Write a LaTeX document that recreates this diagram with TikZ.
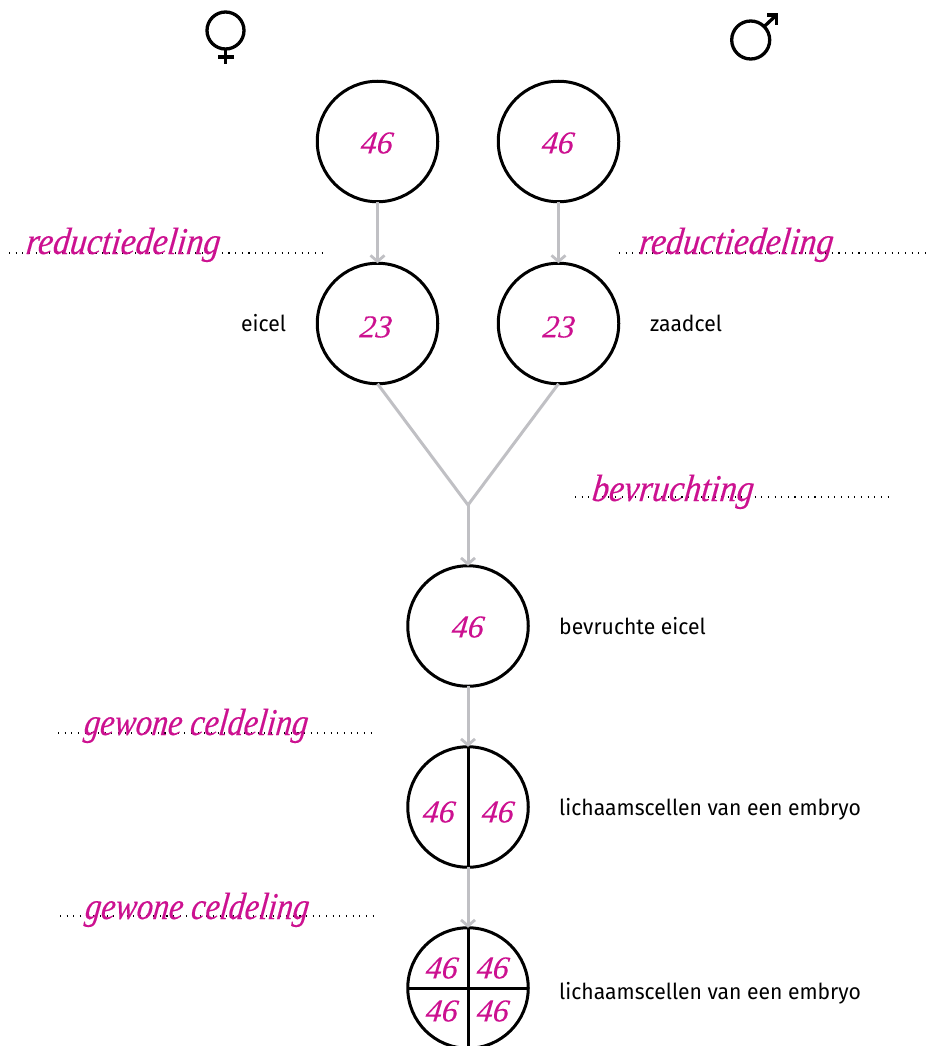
\documentclass[tikz,border=0pt]{standalone}
\usepackage{fontspec}
\setmainfont[FakeStretch=0.96]{Fira Sans}
\newfontfamily\numfont[FakeSlant=0.12,FakeBold=0.25]{Liberation Serif Italic}
\newfontfamily\handfont[FakeSlant=0.12,FakeBold=0.25,FakeStretch=0.89]{Liberation Serif Italic}
\newfontfamily\handfontb[FakeSlant=0.12,FakeBold=0.25,FakeStretch=0.845]{Liberation Serif Italic}
\usetikzlibrary{arrows.meta}
\definecolor{pinkink}{HTML}{CC1190}
\definecolor{linkgrey}{HTML}{C0C0C4}
\tikzset{
  x=1pt,y=-1pt,
  cell/.style={circle,draw=black,line width=3pt,minimum size=120.5pt,inner sep=0pt,outer sep=0pt},
  link/.style={draw=linkgrey,line width=3pt},
  linkarrow/.style={link,-{Straight Barb[length=6pt,width=14pt,line width=2.8pt]}},
  divider/.style={draw=black,line width=3pt},
  leader/.style={draw=black,line width=1.1pt,dash pattern=on 1.1pt off 5.55pt},
  num/.style={text=pinkink,font=\numfont\fontsize{32}{32}\selectfont,inner sep=0pt},
  proc/.style={text=pinkink,font=\handfont\fontsize{38}{38}\selectfont,inner sep=0pt,anchor=base west},
  procb/.style={text=pinkink,font=\handfontb\fontsize{38}{38}\selectfont,inner sep=0pt,anchor=base west},
  lab/.style={text=black,font=\fontsize{22}{24}\selectfont,inner sep=0pt,anchor=base west},
  sym/.style={circle,draw=black,line width=3.3pt,inner sep=0pt,outer sep=0pt},
  symline/.style={draw=black,line width=3.3pt},
}
\begin{document}
\begin{tikzpicture}
\useasboundingbox (0,0) rectangle (928,1046);
\clip (0,0) rectangle (928,1046);
% dotted leaders
\coordinate (l1a) at (9,253); \coordinate (l1b) at (325,253);
\coordinate (l2a) at (619,253); \coordinate (l2b) at (928,253);
\coordinate (l3a) at (575,497); \coordinate (l3b) at (891,497);
\coordinate (l4a) at (58,733); \coordinate (l4b) at (375,733);
\coordinate (l5a) at (60,916); \coordinate (l5b) at (376,916);
\draw[leader] (l1a) -- (l1b);
\draw[leader] (l2a) -- (l2b);
\draw[leader] (l3a) -- (l3b);
\draw[leader] (l4a) -- (l4b);
\draw[leader] (l5a) -- (l5b);
% cells
\node[cell] (c1) at (377.5,141.5) {};
\node[cell] (c2) at (558.5,141.5) {};
\node[cell] (c3) at (377.5,323.5) {};
\node[cell] (c4) at (558.5,323.5) {};
\node[cell] (c5) at (468,626) {};
\node[cell] (c6) at (468,807) {};
\node[cell] (c7) at (468,988) {};
\coordinate (J) at (468,505);
% connectors
\draw[linkarrow] (c1) -- (c3);
\draw[linkarrow] (c2) -- (c4);
\draw[link,line join=miter] (c3.south) -- (J) -- (c4.south);
\draw[linkarrow] (J) -- (c5);
\draw[linkarrow] (c5) -- (c6);
\draw[linkarrow] (c6) -- (c7);
% cell divisions
\draw[divider] (c6.north) -- (c6.south);
\draw[divider] (c7.north) -- (c7.south);
\draw[divider] (c7.west) -- (c7.east);
% chromosome numbers
\node[num] (n1) at (376,143) {46};
\node[num] (n2) at (557,143) {46};
\node[num] (n3) at (375,327) {23};
\node[num] (n4) at (558,327) {23};
\node[num] (n5) at (467,627) {46};
\node[num] (n6) at (438,812) {46};
\node[num] (n7) at (497,812) {46};
\node[num] (n8) at (441,968) {46};
\node[num] (n9) at (492,968) {46};
\node[num] (n10) at (441,1011) {46};
\node[num] (n11) at (492,1011) {46};
% process names
\node[proc] (p1) at (25,254) {reductiedeling};
\node[proc] (p2) at (638,254) {reductiedeling};
\node[proc] (p3) at (591,501) {bevruchting};
\node[procb] (p4) at (83,735) {gewone celdeling};
\node[procb] (p5) at (84,919) {gewone celdeling};
% labels
\node[lab] (t1) at (241,331) {eicel};
\node[lab] (t2) at (650,331) {zaadcel};
\node[lab] (t3) at (559,634) {bevruchte eicel};
\node[lab] (t4) at (559,815) {lichaamscellen van een embryo};
\node[lab] (t5) at (559,999) {lichaamscellen van een embryo};
% sex symbols
\node[sym,minimum size=37pt] (venus) at (225.5,30.5) {};
\coordinate (vb) at (225.5,64);
\coordinate (vl) at (218,57);
\coordinate (vr) at (233.5,57);
\draw[symline] (venus.south) -- (vb);
\draw[symline] (vl) -- (vr);
\node[sym,minimum size=38pt] (mars) at (750.7,40) {};
\coordinate (mt) at (776.5,15);
\coordinate (ma) at (767,15);
\coordinate (mb) at (776.5,25);
\draw[symline] (mars.45) -- (mt);
\draw[symline,line join=miter] (ma) -- (mt) -- (mb);
\end{tikzpicture}
\end{document}
